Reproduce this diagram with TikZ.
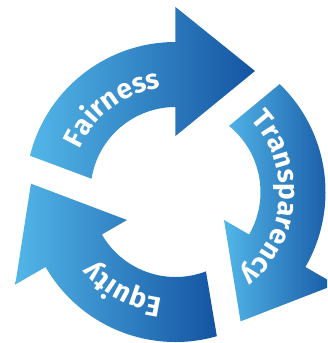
\documentclass[tikz,border=0pt]{standalone}
\usepackage{fontspec}
\usetikzlibrary{decorations.text}
\newfontfamily\lblfamily{Fira Sans}
\newcommand\lbl{\lblfamily\bfseries\fontsize{28}{28}\selectfont}
\definecolor{lightb}{HTML}{52B6E8}
\definecolor{darkb}{HTML}{1454A2}
\tikzset{
  arrowfill/.style={left color=lightb, right color=darkb, draw=none},
  lbltext/.style={decorate, decoration={text along path, text align=center, text color=white, text={|\lbl|#1}}}
}
\newcommand\cyclearrow[1]{%
  \path[arrowfill] (166+#1:150) arc[start angle=166+#1, end angle=90+#1, radius=150]
    -- (90+#1:185) -- (56.7+#1:144.8) -- (90+#1:56) -- (90+#1:85)
    arc[start angle=90+#1, end angle=171+#1, radius=85] -- cycle;}
\begin{document}
\begin{tikzpicture}[x=1pt,y=1pt]
\useasboundingbox (-175.5,-151) rectangle (151.5,192);
\clip (-175.5,-151) rectangle (151.5,192);
\cyclearrow{0}
\cyclearrow{-120}
\cyclearrow{-240}
\path[lbltext=Fairness] (177:105) arc[start angle=177, end angle=77, radius=105];
\path[lbltext=Transparency] (416:104) arc[start angle=416, end angle=296, radius=104];
\path[lbltext=Equity] (291.5:107) arc[start angle=291.5, end angle=191.5, radius=107];
\end{tikzpicture}
\end{document}
